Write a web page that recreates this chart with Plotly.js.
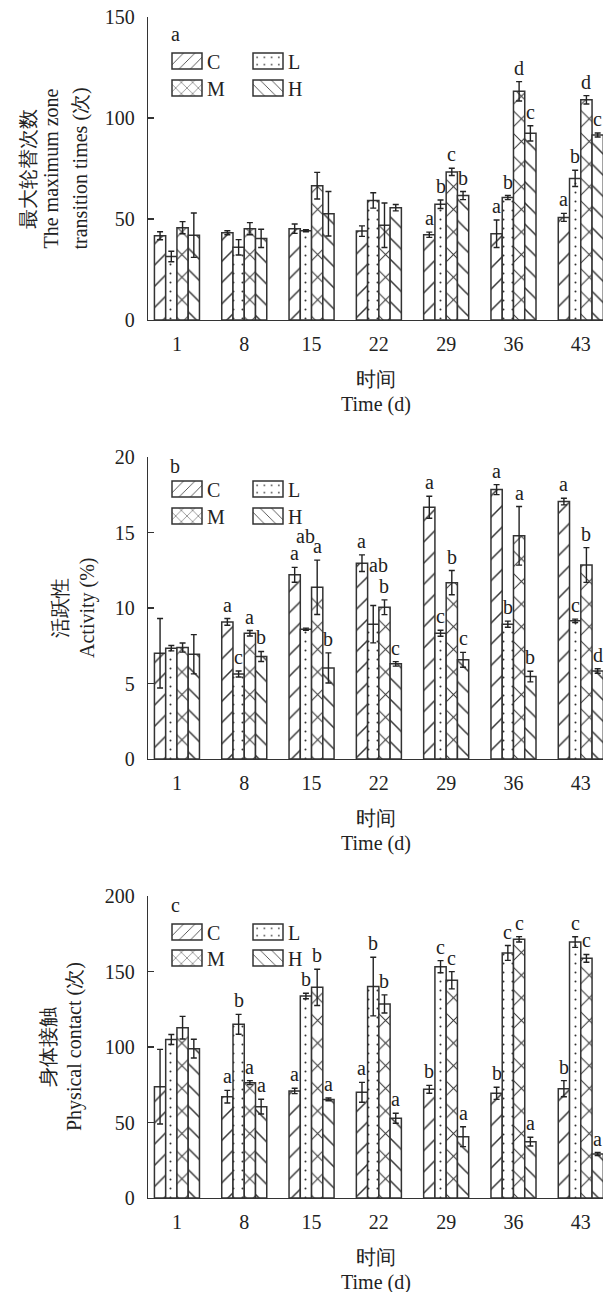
<!DOCTYPE html>
<html>
<head>
<meta charset="utf-8">
<script src="https://cdn.plot.ly/plotly-3.0.1.min.js"></script>
<style>
html,body{margin:0;padding:0;background:#fff;}
#chart{width:607px;height:1292px;}
</style>
</head>
<body>
<div id="chart"></div>
<script>
// ---------------- data ----------------
const days = ['1', '8', '15', '22', '29', '36', '43'];
const groupNames = ['C', 'L', 'M', 'H'];

// Panel a: maximum zone transition times
const zoneC = [41.7, 43.2, 45.2, 44.0, 42.2, 42.7, 50.8];
const zoneCErr = [2.0, 1.0, 2.3, 2.6, 1.3, 6.8, 2.0];
const zoneL = [31.4, 36.0, 44.2, 59.2, 57.3, 60.6, 70.1];
const zoneLErr = [2.6, 3.8, 0.5, 3.8, 2.1, 1.0, 4.0];
const zoneM = [45.7, 45.2, 66.5, 46.9, 73.3, 113.2, 109.0];
const zoneMErr = [3.0, 3.0, 6.6, 11.0, 1.8, 4.8, 2.1];
const zoneH = [42.0, 40.4, 52.6, 55.6, 61.6, 92.4, 91.6];
const zoneHErr = [11.0, 4.5, 11.0, 1.6, 2.0, 3.8, 1.0];
const zoneLetC = ['', '', '', '', 'a', 'a', 'a'];
const zoneLetL = ['', '', '', '', 'b', 'b', 'b'];
const zoneLetM = ['', '', '', '', 'c', 'd', 'd'];
const zoneLetH = ['', '', '', '', 'b', 'c', 'c'];

// Panel b: activity (%)
const actC = [7.0, 9.08, 12.2, 12.97, 16.67, 17.84, 17.05];
const actCErr = [2.3, 0.22, 0.49, 0.55, 0.73, 0.33, 0.22];
const actL = [7.34, 5.63, 8.6, 8.93, 8.33, 8.93, 9.15];
const actLErr = [0.18, 0.2, 0.07, 1.24, 0.2, 0.2, 0.11];
const actM = [7.38, 8.33, 11.37, 10.05, 11.68, 14.78, 12.85];
const actMErr = [0.3, 0.18, 1.8, 0.49, 0.8, 1.94, 1.15];
const actH = [6.94, 6.79, 6.03, 6.3, 6.57, 5.46, 5.83];
const actHErr = [1.3, 0.33, 1.0, 0.15, 0.49, 0.35, 0.15];
const actLetC = ['', 'a', 'a', 'a', 'a', 'a', 'a'];
const actLetL = ['', 'c', 'ab', 'ab', 'c', 'b', 'c'];
const actLetM = ['', 'a', 'a', 'b', 'b', 'a', 'b'];
const actLetH = ['', 'b', 'b', 'c', 'c', 'b', 'd'];

// Panel c: physical contact
const conC = [73.7, 67.1, 70.9, 70.0, 72.0, 69.3, 72.4];
const conCErr = [24.7, 4.2, 1.8, 6.6, 2.6, 4.0, 5.3];
const conL = [105.0, 115.0, 133.8, 140.0, 153.2, 162.3, 169.5];
const conLErr = [3.3, 6.6, 1.8, 19.4, 4.0, 4.9, 3.5];
const conM = [112.8, 76.4, 139.5, 128.5, 144.2, 171.3, 158.7];
const conMErr = [7.5, 1.3, 12.0, 6.0, 5.7, 1.8, 2.6];
const conH = [98.9, 60.5, 65.3, 52.8, 40.6, 37.3, 29.1];
const conHErr = [6.2, 4.9, 0.9, 3.3, 6.6, 2.9, 1.0];
const conLetC = ['', 'a', 'a', 'a', 'b', 'b', 'b'];
const conLetL = ['', 'b', 'b', 'b', 'c', 'c', 'c'];
const conLetM = ['', 'a', 'b', 'b', 'c', 'c', 'c'];
const conLetH = ['', 'a', 'a', 'a', 'a', 'a', 'a'];

const panelLetters = ['a', 'b', 'c'];
const yTitles = [
  ['最大轮替次数', 'The maximum zone', 'transition times (次)'],
  ['活跃性', 'Activity (%)'],
  ['身体接触', 'Physical contact (次)']
];
const yRanges = [[0, 150], [0, 20], [0, 200]];
const yTicks = [[0, 50, 100, 150], [0, 5, 10, 15, 20], [0, 50, 100, 150, 200]];
const xTitle1 = '时间';
const xTitle2 = 'Time (d)';

// ---------------- layout helpers (pixel geometry) ----------------
const W = 607, H = 1292;
const L = 148, R = 4, T = 17, B = 94;
const PW = W - L - R, PH = H - T - B;
const px = v => (v - L) / PW;
const py = v => (H - B - v) / PH;
const panelTop = [17, 457, 896];
const panelBot = [320, 759, 1198];
const letterOffset = [17, 9, 9];

const FONT = 'Liberation Serif';
const INK = '#333';
const BARGAP = 0.331;

const panels = [
  {vals: [zoneC, zoneL, zoneM, zoneH], errs: [zoneCErr, zoneLErr, zoneMErr, zoneHErr], lets: [zoneLetC, zoneLetL, zoneLetM, zoneLetH]},
  {vals: [actC, actL, actM, actH], errs: [actCErr, actLErr, actMErr, actHErr], lets: [actLetC, actLetL, actLetM, actLetH]},
  {vals: [conC, conL, conM, conH], errs: [conCErr, conLErr, conMErr, conHErr], lets: [conLetC, conLetL, conLetM, conLetH]}
];

const patterns = [
  {shape: '/', size: 15, solidity: 0.1},
  {shape: '.', size: 9, solidity: 0.04},
  {shape: 'x', size: 16, solidity: 0.12},
  {shape: '\\', size: 15, solidity: 0.1}
];

// extra label nudges (panel, series, day) -> [xshift, yshift] in px
const labelNudge = {'1-1-2': [0, 78], '1-1-3': [5, 26]};

const traces = [];
const annotations = [];
const layout = {
  width: W, height: H,
  margin: {l: L, r: R, t: T, b: B},
  paper_bgcolor: '#fff', plot_bgcolor: '#fff',
  barmode: 'group', bargap: BARGAP, bargroupgap: 0,
  font: {family: FONT, size: 20, color: '#222'},
  showlegend: true
};

const gw = 1 - BARGAP, bw = gw / 4;
let legendIdx = 0;

panels.forEach((p, pi) => {
  const sfx = pi === 0 ? '' : String(pi + 1);
  const xa = 'x' + sfx, ya = 'y' + sfx;
  const dom = [py(panelBot[pi]), py(panelTop[pi])];
  layout['xaxis' + sfx] = {
    type: 'category', categoryorder: 'array', categoryarray: days,
    range: [-0.43, 6.33], anchor: ya, domain: [0, 1],
    showline: true, linecolor: INK, linewidth: 1.3, ticks: '', showgrid: false, zeroline: false,
    ticklabelstandoff: 6,
    tickfont: {family: FONT, size: 20, color: '#222'}, fixedrange: true
  };
  layout['yaxis' + sfx] = {
    range: yRanges[pi], domain: dom, anchor: xa,
    tickvals: yTicks[pi], ticks: 'inside', ticklen: 6, tickwidth: 1.3, tickcolor: INK,
    showline: true, linecolor: INK, linewidth: 1.3, showgrid: false, zeroline: false,
    ticklabelstandoff: 8,
    tickfont: {family: FONT, size: 20, color: '#222'}, fixedrange: true
  };

  p.vals.forEach((vals, k) => {
    legendIdx++;
    const lname = legendIdx === 1 ? 'legend' : 'legend' + legendIdx;
    traces.push({
      type: 'bar', name: groupNames[k], x: days, y: vals,
      xaxis: xa, yaxis: ya, legend: lname,
      marker: {color: '#fff', line: {color: INK, width: 1.5},
        pattern: {shape: patterns[k].shape, size: patterns[k].size, solidity: patterns[k].solidity, fgcolor: INK, bgcolor: '#fff', fillmode: 'replace'}},
      error_y: {type: 'data', array: p.errs[k], visible: true, color: '#222', thickness: 1.4, width: 3},
      hoverinfo: 'skip'
    });
    const col = k % 2, row = Math.floor(k / 2);
    const rowY = pi === 0 ? [61, 88] : (pi === 1 ? [489, 516] : [932, 958]);
    layout[lname] = {
      x: px(col === 0 ? 167 : 248), y: py(rowY[row]), xref: 'paper', yref: 'paper',
      xanchor: 'left', yanchor: 'middle', bgcolor: 'rgba(0,0,0,0)', borderwidth: 0,
      font: {family: FONT, size: 20, color: '#222'}, itemwidth: 30, tracegroupgap: 0
    };
    vals.forEach((v, i) => {
      const t = p.lets[k][i];
      if (!t) return;
      const nud = labelNudge[pi + '-' + k + '-' + i] || [0, 0];
      annotations.push({
        xref: xa, yref: ya, x: i - gw / 2 + (k + 0.5) * bw, y: v + p.errs[k][i],
        text: t, showarrow: false, yanchor: 'bottom', xanchor: 'center',
        yshift: 1 + nud[1], xshift: nud[0],
        font: {family: FONT, size: 20, color: '#222'}
      });
    });
  });

  annotations.push({xref: 'paper', yref: 'paper', x: px(175), y: py(panelTop[pi] + letterOffset[pi]),
    text: panelLetters[pi], showarrow: false, xanchor: 'center', yanchor: 'middle',
    font: {family: FONT, size: 20, color: '#222'}});

  const bot = panelBot[pi];
  annotations.push({xref: 'paper', yref: 'paper', x: 0.5, y: py(bot + 59), text: xTitle1,
    showarrow: false, xanchor: 'center', yanchor: 'middle', font: {family: FONT, size: 20, color: '#222'}});
  annotations.push({xref: 'paper', yref: 'paper', x: 0.5, y: py(bot + 84), text: xTitle2,
    showarrow: false, xanchor: 'center', yanchor: 'middle', font: {family: FONT, size: 20, color: '#222'}});

  const centers = pi === 0 ? [28, 51, 80] : (pi === 1 ? [60, 87] : [48, 74]);
  const midY = (panelTop[pi] + panelBot[pi]) / 2;
  yTitles[pi].forEach((line, j) => {
    annotations.push({xref: 'paper', yref: 'paper', x: px(centers[j]), y: py(midY), text: line,
      showarrow: false, textangle: -90, xanchor: 'center', yanchor: 'middle',
      font: {family: FONT, size: 20, color: '#222'}});
  });
});

layout.annotations = annotations;

Plotly.newPlot('chart', traces, layout, {displayModeBar: false, staticPlot: true}).then(() => {
  document.querySelectorAll('.legendpoints path').forEach(el => {
    el.setAttribute('d', 'M15,8H-15V-8H15Z');
    el.style.strokeWidth = '1.5px';
    el.style.stroke = INK;
  });
});
</script>
</body>
</html>
